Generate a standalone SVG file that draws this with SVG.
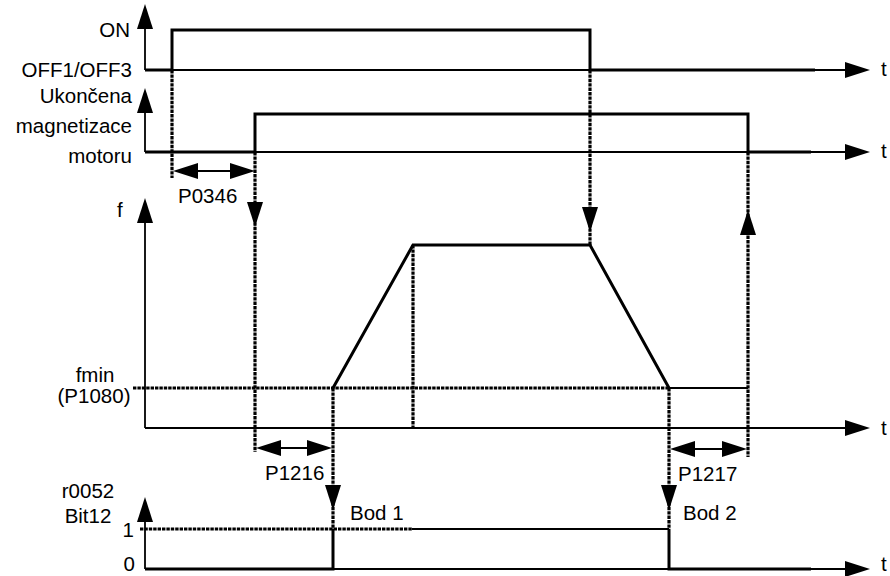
<svg xmlns="http://www.w3.org/2000/svg" xmlns:xlink="http://www.w3.org/1999/xlink" width="890" height="576" viewBox="0 0 890 576">
<style>
text{font-family:"Liberation Sans",Arial,sans-serif;font-size:20.5px;fill:#000}
.r{text-anchor:end}
.m{text-anchor:middle}
.ax{fill:none;stroke:#000;stroke-width:1.8}
.sig{fill:none;stroke:#000;stroke-width:3;stroke-linejoin:miter}
.med{fill:none;stroke:#000;stroke-width:2.2}
.dot{fill:none;stroke:#000;stroke-width:3.2;stroke-dasharray:3.4 1}
.dim{fill:none;stroke:#000;stroke-width:1.8}
</style>
<defs>
<path id="ah" d="M0,0 L-25,-8 L-25,8 Z" fill="#000"/>
</defs>
<rect width="890" height="576" fill="#fff"/>

<g id="axes">
<line class="ax" x1="145" y1="28" x2="145" y2="70"/>
<line class="ax" x1="145" y1="70" x2="848" y2="70"/>
<line class="ax" x1="145" y1="111" x2="145" y2="152"/>
<line class="ax" x1="145" y1="152" x2="848" y2="152"/>
<line class="ax" x1="145" y1="221" x2="145" y2="428"/>
<line class="ax" x1="145" y1="428" x2="848" y2="428"/>
<line class="ax" x1="145" y1="520" x2="145" y2="569"/>
<line class="ax" x1="145" y1="569" x2="848" y2="569"/>
<use xlink:href="#ah" transform="translate(145,4) rotate(-90)"/>
<use xlink:href="#ah" transform="translate(145,88) rotate(-90)"/>
<use xlink:href="#ah" transform="translate(145,198) rotate(-90)"/>
<use xlink:href="#ah" transform="translate(145,497) rotate(-90)"/>
<use xlink:href="#ah" transform="translate(870,70)"/>
<use xlink:href="#ah" transform="translate(870,152)"/>
<use xlink:href="#ah" transform="translate(870,428)"/>
<use xlink:href="#ah" transform="translate(870,569)"/>
</g>

<g id="labels">
<text class="r" x="130" y="37">ON</text>
<text class="r" x="132" y="77">OFF1/OFF3</text>
<text class="r" x="132" y="103">Ukončena</text>
<text class="r" x="132" y="133">magnetizace</text>
<text class="r" x="132" y="163">motoru</text>
<text x="117" y="217">f</text>
<text class="m" x="95" y="382">fmin</text>
<text class="m" x="94" y="403">(P1080)</text>
<text class="m" x="88" y="498">r0052</text>
<text class="m" x="88" y="523">Bit12</text>
<text class="r" x="134" y="537">1</text>
<text class="r" x="135" y="571">0</text>
<text x="881" y="76">t</text>
<text x="881" y="158">t</text>
<text x="881" y="435">t</text>
<text x="881" y="571">t</text>
</g>

<g id="signal-on">
<path class="sig" d="M145,70 H172 V30 H590 V70 H815"/>
</g>

<g id="signal-magnetization">
<path class="sig" d="M145,152 H255 V114 H748 V152 H811"/>
</g>

<g id="signal-frequency">
<path class="sig" d="M333,388 L413,245 H590 L669,388"/>
<line class="med" x1="669" y1="388" x2="748" y2="388"/>
</g>

<g id="signal-r0052">
<path class="sig" d="M145,569 H333 V529"/>
<line class="med" x1="412" y1="529" x2="669" y2="529"/>
<path class="sig" d="M669,529 V569 H811"/>
</g>

<g id="connectors">
<line class="dot" x1="172" y1="70" x2="172" y2="178"/>
<line class="dot" x1="255" y1="152" x2="255" y2="452"/>
<line class="dot" x1="333" y1="388" x2="333" y2="529"/>
<line class="dot" x1="413" y1="245" x2="413" y2="428"/>
<line class="dot" x1="590" y1="70" x2="590" y2="245"/>
<line class="dot" x1="669" y1="388" x2="669" y2="529"/>
<line class="dot" x1="748" y1="152" x2="748" y2="457"/>
<line class="dot" x1="133" y1="388" x2="669" y2="388"/>
<line class="dot" x1="140" y1="529" x2="412" y2="529"/>
<use xlink:href="#ah" transform="translate(255,227) rotate(90)"/>
<use xlink:href="#ah" transform="translate(590,232) rotate(90)"/>
<use xlink:href="#ah" transform="translate(748,210) rotate(-90)"/>
<use xlink:href="#ah" transform="translate(333,510) rotate(90)"/>
<use xlink:href="#ah" transform="translate(669,510) rotate(90)"/>
</g>

<g id="dim-p0346">
<line class="dim" x1="190" y1="171" x2="240" y2="171"/>
<use xlink:href="#ah" transform="translate(173,171) rotate(180)"/>
<use xlink:href="#ah" transform="translate(255,171)"/>
<text x="178" y="203">P0346</text>
</g>
<g id="dim-p1216">
<line class="dim" x1="270" y1="448" x2="318" y2="448"/>
<use xlink:href="#ah" transform="translate(256,448) rotate(180)"/>
<use xlink:href="#ah" transform="translate(332,448)"/>
<text x="265" y="480">P1216</text>
</g>
<g id="dim-p1217">
<line class="dim" x1="684" y1="449" x2="733" y2="449"/>
<use xlink:href="#ah" transform="translate(670,449) rotate(180)"/>
<use xlink:href="#ah" transform="translate(747,449)"/>
<text x="678" y="481">P1217</text>
</g>
<g id="points">
<text x="350" y="520">Bod 1</text>
<text x="683" y="520">Bod 2</text>
</g>
</svg>
